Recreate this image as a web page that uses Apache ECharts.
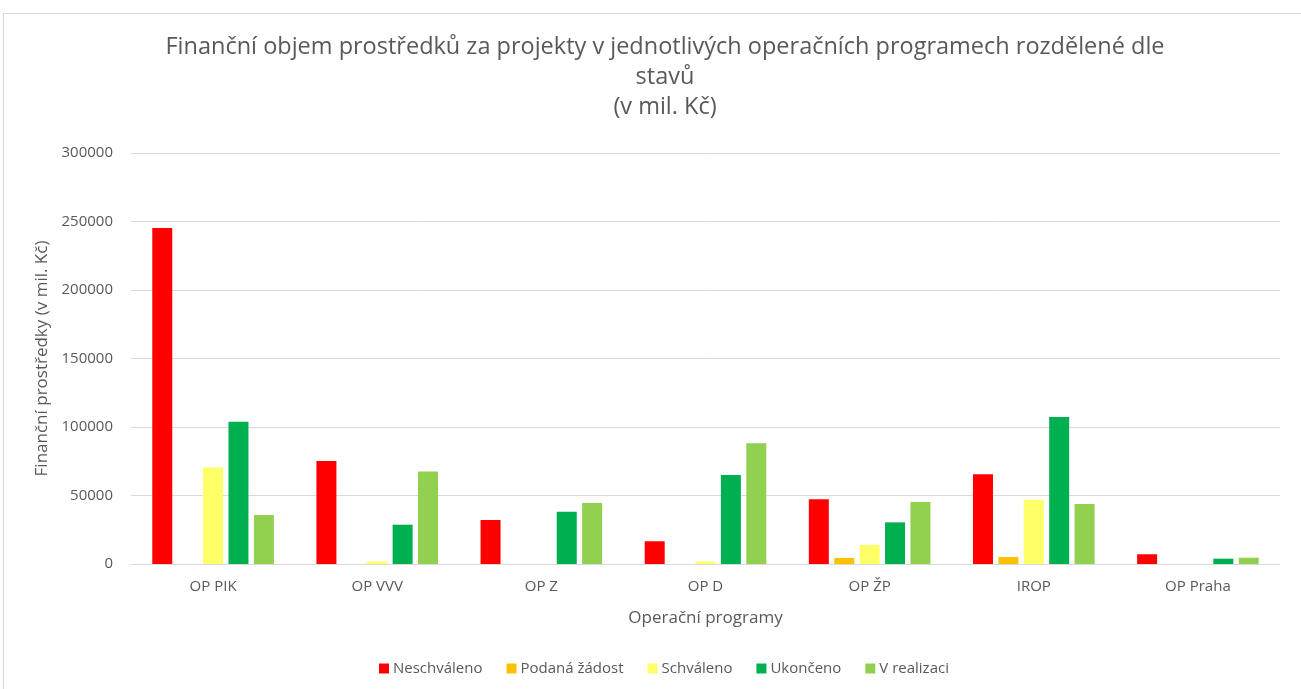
<!DOCTYPE html>
<html>
<head>
<meta charset="utf-8">
<script src="https://cdn.jsdelivr.net/npm/echarts@6/dist/echarts.min.js"></script>
<style>
  html, body { margin: 0; padding: 0; background: #fff; }
  #frame { position: absolute; left: 3px; top: 13px; width: 1310px; height: 690px; border: 1px solid #d9d9d9; box-sizing: border-box; }
  #chart { position: absolute; left: 0; top: 0; width: 1301px; height: 689px; }
</style>
</head>
<body>
<div id="frame"></div>
<div id="chart"></div>
<script>
  // categories and series (mil. Kč)
  const programs = ['OP PIK', 'OP VVV', 'OP Z', 'OP D', 'OP ŽP', 'IROP', 'OP Praha'];
  const neschvaleno = [245300, 75200, 32100, 16600, 47200, 65500, 7100];
  const podanaZadost = [0, 0, 0, 0, 4400, 5100, 0];
  const schvaleno = [70500, 1900, 0, 1900, 13900, 46900, 0];
  const ukonceno = [103900, 28700, 38200, 65000, 30400, 107300, 3900];
  const vRealizaci = [35700, 67600, 44500, 88100, 45300, 43800, 4600];
  const yTicks = [0, 50000, 100000, 150000, 200000, 250000, 300000];

  const textColor = '#595959';
  const font = '"Open Sans", "Liberation Sans", sans-serif';

  const chart = echarts.init(document.getElementById('chart'));

  const mkSeries = (name, data, color) => ({
    name: name,
    type: 'bar',
    data: data,
    barWidth: 20,
    barGap: '27%',
    itemStyle: { color: color }
  });

  const option = {
    animation: false,
    textStyle: { fontFamily: font, color: textColor },
    title: {
      text: 'Finanční objem prostředků za projekty v jednotlivých operačních programech rozdělené dle\nstavů\n(v mil. Kč)',
      left: 660,
      textAlign: 'center',
      top: 27,
      textStyle: { fontSize: 23.5, fontWeight: 'normal', color: textColor, lineHeight: 30, fontFamily: font }
    },
    legend: {
      bottom: 8,
      left: 374,
      itemWidth: 10,
      itemHeight: 10,
      itemGap: 24,
      icon: 'rect',
      textStyle: { fontSize: 15, color: textColor, fontFamily: font, padding: [0, 0, 0, -1] },
      data: ['Neschváleno', 'Podaná žádost', 'Schváleno', 'Ukončeno', 'V realizaci']
    },
    grid: { left: 131, right: 21, top: 153, bottom: 125 },
    xAxis: {
      type: 'category',
      data: programs,
      name: 'Operační programy',
      nameLocation: 'middle',
      nameGap: 46,
      nameTextStyle: { fontSize: 17, color: textColor },
      axisLine: { lineStyle: { color: '#d9d9d9' } },
      axisTick: { show: false },
      axisLabel: { fontSize: 15, color: textColor, margin: 15 }
    },
    yAxis: {
      type: 'value',
      min: yTicks[0],
      max: yTicks[yTicks.length - 1],
      interval: 50000,
      name: 'Finanční prostředky (v mil. Kč)',
      nameLocation: 'middle',
      nameGap: 70,
      nameTextStyle: { fontSize: 17, color: textColor },
      axisLine: { show: false },
      axisTick: { show: false },
      axisLabel: { fontSize: 15, color: textColor, margin: 18, formatter: (v) => String(v) },
      splitLine: { lineStyle: { color: '#d9d9d9' } }
    },
    series: [
      mkSeries('Neschváleno', neschvaleno, '#ff0000'),
      mkSeries('Podaná žádost', podanaZadost, '#ffc000'),
      mkSeries('Schváleno', schvaleno, '#ffff66'),
      mkSeries('Ukončeno', ukonceno, '#00b050'),
      mkSeries('V realizaci', vRealizaci, '#92d050')
    ]
  };

  chart.setOption(option);
</script>
</body>
</html>
